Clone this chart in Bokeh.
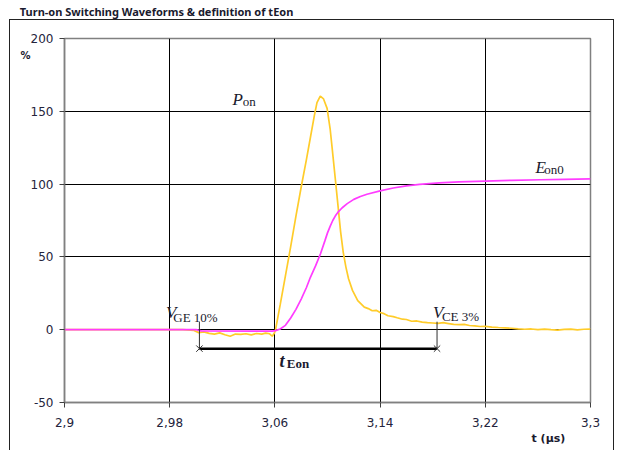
from bokeh.plotting import figure
from bokeh.models import FixedTicker, Range1d, LinearAxis
from bokeh.core.properties import value
from bokeh.embed import file_html
from bokeh.resources import INLINE

# ---------------- data ----------------
x_ticks = [2.9, 2.98, 3.06, 3.14, 3.22, 3.3]
x_tick_labels = ["2,9", "2,98", "3,06", "3,14", "3,22", "3,3"]
y_ticks = [-50, 0, 50, 100, 150, 200]
y_tick_labels = ["-50", "0", "50", "100", "150", "200"]

title_text = "Turn-on Switching Waveforms & definition of tEon"

# P_on (turn-on power, %)
t_pon = [2.900, 2.990, 2.9985, 3.002, 3.006, 3.010, 3.014, 3.018, 3.022, 3.026,
         3.030, 3.034, 3.038, 3.042, 3.046, 3.050, 3.053, 3.056, 3.058, 3.0595,
         3.0605, 3.064, 3.068, 3.072, 3.076, 3.080, 3.084, 3.087, 3.090, 3.092,
         3.0945, 3.097, 3.0997, 3.102, 3.1035, 3.106, 3.108, 3.110, 3.112, 3.114,
         3.116, 3.119, 3.123, 3.128, 3.131, 3.134, 3.137, 3.140, 3.143, 3.146,
         3.150, 3.153, 3.157, 3.160, 3.164, 3.168, 3.172, 3.176, 3.180, 3.184,
         3.188, 3.192, 3.196, 3.200, 3.204, 3.208, 3.212, 3.216, 3.220, 3.225,
         3.230, 3.235, 3.240, 3.245, 3.250, 3.255, 3.260, 3.265, 3.270, 3.275,
         3.280, 3.285, 3.290, 3.295, 3.300]
pon = [0.0, 0.0, -0.5, -2.0, -1.5, -2.5, -3.0, -2.2, -3.5, -4.5,
       -3.0, -3.2, -2.8, -3.6, -2.6, -3.0, -2.4, -2.8, -4.5, -2.5,
       0.0, 17.0, 37.0, 57.0, 78.0, 98.0, 117.0, 132.0, 147.0, 156.0,
       160.5, 158.5, 152.0, 138.0, 125.0, 103.0, 85.0, 67.0, 53.0, 43.0,
       35.0, 27.0, 20.0, 15.5, 14.5, 13.0, 13.3, 11.8, 11.0, 9.6,
       9.0, 8.2, 7.2, 7.0, 5.8, 6.0, 5.2, 4.8, 4.6, 4.3,
       4.8, 4.2, 3.6, 3.5, 3.6, 2.9, 2.6, 2.2, 2.3, 1.8,
       1.5, 1.3, 1.0, 0.6, 0.3, 0.5, 0.1, 0.4, 0.0, -0.3,
       0.2, 0.4, -0.1, 0.3, 0.4]

# E_on0 (turn-on energy, %)
t_eon = [2.900, 3.000, 3.004, 3.058, 3.0605, 3.064, 3.068, 3.072, 3.076, 3.080,
         3.084, 3.087, 3.091, 3.0946, 3.098, 3.100, 3.102, 3.104, 3.106, 3.108,
         3.111, 3.115, 3.120, 3.125, 3.130, 3.140, 3.150, 3.160, 3.170, 3.185,
         3.200, 3.220, 3.240, 3.262, 3.280, 3.300]
eon = [0.0, 0.0, -0.8, -1.0, -0.6, 0.5, 3.0, 8.0, 14.0, 21.0,
       29.0, 36.0, 44.0, 52.0, 61.0, 66.5, 71.0, 75.0, 78.2, 80.7,
       83.6, 86.6, 89.5, 91.5, 93.0, 95.3, 97.3, 98.8, 99.8, 100.8,
       101.5, 102.1, 102.6, 103.0, 103.3, 103.6]

# t_Eon interval markers
t_vge10 = 3.0026
t_vce3 = 3.1833
teon_level = -13.0
marker_top = 5.5

# positions of texts placed as axis labels outside the plot area
title_pos = 2.970
pct_pos = 188.0
t_unit_pos = 3.268

# ---------------- figure ----------------
p = figure(width=624, height=450, title=None,
           x_range=Range1d(2.9, 3.3), y_range=Range1d(-50, 200),
           output_backend="svg", toolbar_location=None,
           min_border_left=64, min_border_right=34,
           min_border_top=36, min_border_bottom=48)

p.background_fill_color = "white"
p.border_fill_color = None
p.outline_line_color = "#808080"
p.outline_line_width = 1.5

# outer chart frame (left, top, right lines; bottom is off-page)
p.styles = {"box-shadow": ("inset 0 19px 0 0 white, inset 9px 0 0 0 white, "
                           "inset -10px 0 0 0 white, inset 0 20px 0 0 #222, "
                           "inset 10px 0 0 0 #222, inset -11px 0 0 0 #222"),
            "background-color": "white"}

for ax in (p.xaxis[0], p.yaxis[0]):
    ax.axis_line_color = "#808080"
    ax.axis_line_width = 1.5
    ax.major_tick_line_color = "#404040"
    ax.major_tick_in = 0
    ax.major_tick_out = 5
    ax.minor_tick_line_color = None
    ax.major_label_text_font = "DejaVu Sans"
    ax.major_label_text_font_size = "12px"
    ax.major_label_text_color = "#24243c"

p.xaxis.ticker = FixedTicker(ticks=x_ticks)
p.xaxis.major_label_overrides = {t: s for t, s in zip(x_ticks, x_tick_labels)}
p.xaxis.major_label_standoff = 10
p.yaxis.ticker = FixedTicker(ticks=y_ticks)
p.yaxis.major_label_overrides = {t: s for t, s in zip(y_ticks, y_tick_labels)}
p.yaxis.major_label_standoff = 6


def text_axis(pos, text, size, standoff, font="DejaVu Sans"):
    return LinearAxis(ticker=FixedTicker(ticks=[pos]),
                      major_label_overrides={pos: text},
                      axis_line_color=None, major_tick_line_color=None,
                      minor_tick_line_color=None, major_tick_in=0, major_tick_out=0,
                      major_label_standoff=standoff,
                      major_label_text_font=font,
                      major_label_text_font_style="bold",
                      major_label_text_font_size=size,
                      major_label_text_color="#1a1a2e")


# chart title above the plot, "%" left of the y tick labels, "t (µs)" below the x labels
p.add_layout(text_axis(title_pos, title_text, "11px", 20, "Noto Sans"), "above")
p.add_layout(text_axis(pct_pos, "%", "10px", -3), "left")
p.add_layout(text_axis(t_unit_pos, "t (µs)", "11px", 2), "below")

p.xgrid.ticker = FixedTicker(ticks=x_ticks)
p.ygrid.ticker = FixedTicker(ticks=y_ticks)
p.grid.grid_line_color = "black"
p.grid.grid_line_width = 1

# curves
p.line(t_pon, pon, line_color="#FFCC2A", line_width=1.7)
p.line(t_eon, eon, line_color="#FF3CFF", line_width=1.7)

# t_Eon definition
p.segment(x0=[t_vge10, t_vce3], y0=[marker_top, marker_top],
          x1=[t_vge10, t_vce3], y1=[teon_level, teon_level],
          line_color="#303030", line_width=1)
p.line([t_vge10, t_vce3], [teon_level, teon_level], line_color="black", line_width=2.5)
p.scatter([t_vge10, t_vce3], [teon_level, teon_level], marker="x", size=9,
          line_color="#303030", line_width=1)

serif = value("Liberation Serif")
# main letters (italic)
p.text(x=[2.9772, 3.1802, 3.0277, 3.2581], y=[11.9, 12.1, 158.0, 111.7],
       text=["V", "V", "P", "E"], text_font=serif, text_font_style="italic",
       text_font_size="17px", text_color="#1a1a2e", text_baseline="alphabetic")
# subscripts
p.text(x=[2.9827, 3.1870, 3.0356, 3.2649], y=[8.6, 9.3, 156.8, 109.9],
       text=["GE 10%", "CE 3%", "on", "on0"], text_font=serif,
       text_font_size="13px", text_color="#1a1a2e", text_baseline="alphabetic")
p.text(x=[3.0635], y=[-21.8], text=["t"], text_font=serif,
       text_font_style="bold italic", text_font_size="18px", text_color="#1a1a2e",
       text_baseline="alphabetic")
p.text(x=[3.0690], y=[-23.4], text=["Eon"], text_font=serif,
       text_font_style="bold", text_font_size="13px", text_color="#1a1a2e",
       text_baseline="alphabetic")

open("out.html", "w").write(file_html(p, INLINE))
